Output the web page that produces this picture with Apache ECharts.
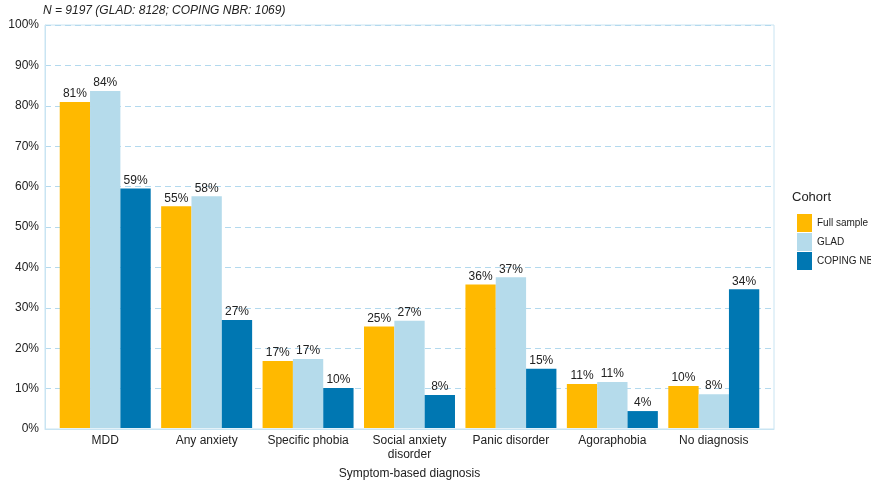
<!DOCTYPE html>
<html><head><meta charset="utf-8">
<script src="https://cdn.jsdelivr.net/npm/echarts@6/dist/echarts.min.js"></script>
<style>html,body{margin:0;padding:0;background:#fff}#c{width:871px;height:485px}</style>
</head><body><div id="c"></div>
<script>
const categories = ["MDD","Any anxiety","Specific phobia","Social anxiety\ndisorder","Panic disorder","Agoraphobia","No diagnosis"];
const fullSample = [80.9, 55.0, 16.6, 25.2, 35.6, 10.9, 10.4];
const glad = [83.6, 57.5, 17.1, 26.6, 37.4, 11.4, 8.4];
const coping = [59.4, 26.8, 9.9, 8.2, 14.7, 4.2, 34.4];
const yTicks = [0,10,20,30,40,50,60,70,80,90,100];

const chart = echarts.init(document.getElementById('c'));
const F = 'Liberation Sans, Arial';
const lbl = {show:true, position:'top', distance:2, color:'#222', fontSize:12, fontFamily:F, formatter:p=>Math.round(p.value)+'%'};
function s(name, data, color){
  return {name, type:'bar', xAxisIndex:1, yAxisIndex:1, data, barGap:'0%', barCategoryGap:'10.3%', itemStyle:{color}, label:lbl, emphasis:{disabled:true}};
}
chart.setOption({
  animation:false,
  textStyle:{fontFamily:F},
  grid:[
    {left:45, right:97, top:25, bottom:56, show:true, borderColor:'#c9e4f2', borderWidth:1},
    {left:54.5, right:106.5, top:25, bottom:56}
  ],
  graphic:[
    {type:'text', left:43, top:5, style:{text:'N = 9197 (GLAD: 8128; COPING NBR: 1069)', fontStyle:'italic', fontSize:12, fill:'#222', fontFamily:F}},
    {type:'text', left:792, top:191, style:{text:'Cohort', fontSize:13, fill:'#222', fontFamily:F}}
  ],
  legend:{orient:'vertical', left:792, top:209, itemWidth:15, itemHeight:18, itemGap:1, icon:'rect',
    textStyle:{fontSize:10, color:'#222', fontFamily:F},
    data:['Full sample','GLAD','COPING NBR']},
  xAxis:[
    {type:'category', gridIndex:0, data:categories, axisLine:{lineStyle:{color:'#c9e4f2'}}, axisTick:{show:false}, axisLabel:{show:false}},
    {type:'category', gridIndex:1, data:categories, name:'Symptom-based diagnosis', nameLocation:'middle', nameGap:40,
      nameTextStyle:{fontSize:12, color:'#222'},
      axisLine:{show:false}, axisTick:{show:false},
      axisLabel:{fontSize:12, color:'#222', margin:6, interval:0, lineHeight:14}}
  ],
  yAxis:[
    {type:'value', gridIndex:0, min:0, max:100, interval:10,
      axisLine:{show:true, lineStyle:{color:'#c9e4f2'}}, axisTick:{show:false},
      axisLabel:{fontSize:12, color:'#222', margin:6, formatter:v=>yTicks.includes(v)?v+'%':''},
      splitLine:{lineStyle:{color:'#b3d9ee', type:[6,4]}}},
    {type:'value', gridIndex:1, min:0, max:100, interval:10, show:false, splitLine:{show:false}}
  ],
  series:[s('Full sample', fullSample, '#FFB900'), s('GLAD', glad, '#B5DBEB'), s('COPING NBR', coping, '#0077B2')]
});
</script></body></html>
